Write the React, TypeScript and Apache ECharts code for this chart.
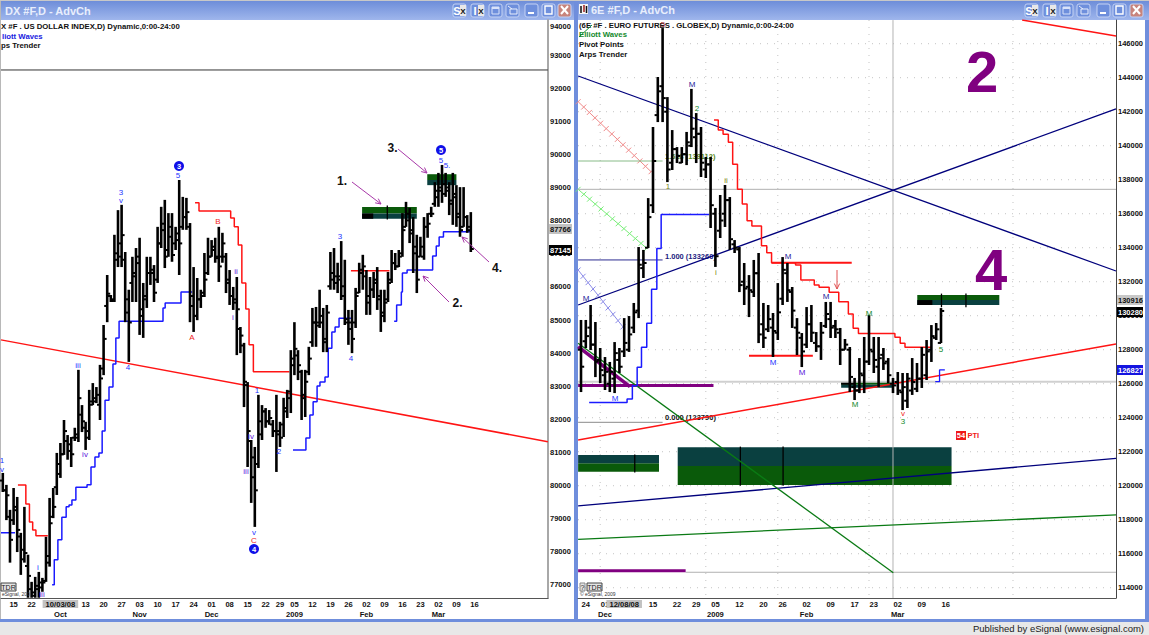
import React, { useEffect, useRef } from "react";
import * as echarts from "echarts";

const FONT = '"Liberation Sans", Arial, sans-serif';

// ---------- US dollar index: [open, high, low, close], one row per trading bar ----------
const dxBars = [
[80150,80380,79805,79855],[79855,80020,78955,79705],[79055,79265,77670,78360],[78955,79925,78810,79355],[79255,79655,77990,78660],
[78460,78570,77300,77770],[78060,79355,77670,77960],[77570,77910,76610,77270],[76870,77090,76610,76770],[76670,77240,76610,76970],
[76870,77390,76610,77070],[76920,77210,76790,77070],[77120,78450,77090,77870],[77670,79625,77550,78860],[79055,79925,79015,79355],
[79950,80985,79715,80650],[80350,81285,80230,80945],[80945,81980,80925,81645],[81345,81525,80780,81045],[81245,81465,80560,80945],
[81445,81745,81345,81545],[81445,83495,81315,82640],[82140,82430,81615,81940],[81745,81925,81075,81445],[81645,82890,81375,82540],
[82440,83095,82430,82640],[82540,82975,82490,82740],[82440,83645,81980,83235],[83535,84850,83335,84430],[85425,86360,84935,85795],
[85725,85755,85545,85575],[85625,87575,85545,87015],[86820,88320,86600,87315],[86915,88480,86600,87565],[86820,87055,84935,85225],
[85625,85915,83735,84925],[86120,86910,85545,86420],[86320,87175,85545,86720],[86915,87485,84550,85125],[85325,86120,84460,85625],
[85725,86910,85365,86420],[86420,86910,86060,86520],[86420,86660,85545,85825],[86220,87815,86120,87315],[87315,88420,87175,87910],
[87715,88630,86570,86915],[87115,88230,86910,87815],[87515,88230,86760,86965],[87315,87815,87115,87415],[87615,89230,86360,87315],
[87815,88720,87725,88110],[88110,88690,87725,88260],[87815,87930,84935,85425],[85725,86600,84640,85125],[85125,86270,84995,85625],
[85625,85915,85365,85725],[85825,87025,85695,86220],[86420,87485,86360,86915],[86915,87415,86910,87215],[87115,87485,86730,86870],
[86915,87815,86150,86620],[86915,87635,86730,87315],[86915,87025,85815,86120],[86220,86510,85455,85725],[85725,86000,85305,85525],
[85625,86300,83940,85325],[84730,84790,84000,84530],[84230,84310,82370,83135],[83035,83125,80560,81645],[81345,81375,79475,80250],
[80850,81165,78750,79855],[80650,82740,80530,81545],[81940,82430,81375,82240],[82240,82340,81745,81940],[81940,82280,81835,82040],
[81845,81980,81465,81645],[81645,82740,80410,81545],[81645,81925,81165,81445],[81845,82650,81465,82340],[82240,82890,82040,82640],
[82840,84090,82190,83835],[83635,84935,83335,84130],[83930,84090,83185,83635],[83435,83495,81980,82740],[82640,83495,82070,83135],
[83435,84190,83335,83835],[84330,85365,84190,84925],[84925,85395,84190,84830],[84925,85915,84760,85125],[84925,85365,84030,84330],
[84430,85455,84030,85225],[86020,87055,85915,86220],[86420,87175,85915,86320],[86120,86730,85815,86320],[86220,87385,85605,86020],
[85725,86820,84850,85025],[84925,85305,84250,84730],[84925,85305,84000,84430],[84925,85970,84760,85725],[85825,86730,85815,86520],
[86420,86970,85915,86620],[86320,86510,85155,85725],[85525,86300,85155,85920],[85920,86450,85665,86220],[86120,86600,85305,85725],
[85625,85915,84640,85225],[85125,85915,84935,85525],[85625,86450,85545,86120],[86220,87115,86120,86720],[86720,87025,86510,86620],
[86620,87115,86600,86915],[87015,88230,86910,87715],[87815,88570,87815,88210],[88010,88390,87325,87615],[87715,88110,86420,87015],
[87215,87575,85815,86220],[86915,87515,86910,87215],[86915,88110,86820,87815],[87815,88230,87485,87910],[88210,88420,88110,88210],
[88510,89165,88420,88905],[88710,89445,88420,89005],[88905,89685,88540,89105],[88810,89445,88720,88905],[89005,89165,88170,88510],
[88610,89445,87875,88810],[88710,89075,87815,88110],[88210,89015,87515,87715],[87815,89015,87815,88110],[88110,88170,87635,87815],
[87715,88260,87055,87145],
];

// ---------- Euro futures: [open, high, low, close] ----------
const euBars = [
[128000,129750,125510,127000],[128500,129750,128100,128800],[129300,130630,127980,128300],[128300,129630,126390,127300],[127400,128100,126040,126800],
[126500,127570,125630,126700],[126000,127280,125510,126700],[126300,128450,125450,127800],[127400,128100,126630,127000],[127900,129860,127570,128400],
[128000,129980,127870,128900],[129300,130750,128980,130200],[130300,134040,129860,133000],[132800,133870,132220,133100],[134000,136920,133980,135800],
[136500,141100,136040,139100],[141800,144040,141390,143200],[143500,146920,141390,142800],[142000,142860,137860,138600],[139000,140920,138570,139800],
[139800,139920,138980,139400],[139000,139920,138980,139500],[139500,140810,138860,140200],[140000,143340,139920,141000],[140500,141920,138980,140700],
[140700,141100,138160,139000],[138600,139340,138100,138900],[138900,139340,135160,136500],[136000,136340,132870,133500],[135000,137100,134570,135600],
[136000,137690,135220,136800],[136800,136980,133870,134500],[134200,134450,133690,134000],[133900,134040,131390,131800],[132000,133100,130630,131600],
[131700,132390,129920,131500],[131400,133280,131100,132500],[132500,133690,128390,128900],[129500,130750,128100,128700],[129200,130630,129040,129800],
[129300,130160,127570,129100],[129000,131920,128570,130200],[131000,133450,130630,132700],[132500,133100,130810,131500],[131400,131690,129280,130300],
[129300,129860,127690,129000],[128700,128980,126980,127900],[128300,130510,128100,129500],[129500,130630,128450,129000],[128400,129040,127870,128200],
[128200,129630,127400,129000],[129400,130810,129280,130100],[129800,130810,128690,129300],[129400,129750,128690,129200],[129000,129280,127100,128000],
[128000,128630,128000,128300],[128000,128160,125510,126400],[125800,126340,125040,125600],[125600,127510,125450,126600],[126500,128750,125450,127300],
[127300,130040,127100,128000],[127900,128750,126630,127400],[127000,128750,125810,127500],[127700,128100,126810,127200],[127300,127510,126040,126500],
[126000,126340,125450,125900],[126100,126690,125340,125600],[125500,126630,124450,125800],[125000,126630,124570,126300],[125600,127510,125340,126100],
[125700,127220,125510,126300],[126300,128160,125750,127700],[126500,128570,126220,127900],[128000,129450,127280,128800],[128700,129570,128570,129200],
[128400,130450,128390,130280],
];

// ---------- Axis ticks ----------
const dxPriceTicks = [93000,92000,91000,90000,89000,88000,87000,86000,85000,84000,83000,82000,81000,80000,79000,78000,77000];
const dxTopPriceLabel = "94000";
const euPriceTicks = [146000,144000,142000,140000,138000,136000,134000,132000,130000,128000,126000,124000,122000,120000,118000,116000,114000];
const dxDateSlots = [3,8,16,23,28,33,38,43,48,53,58,63,68,73,77,81,86,91,96,101,106,111,116,121,126,131];
const dxDateDays = ["15","22","10/03/08","13","20","27","03","10","17","24","01","08","15","22","29","05","12","19","26","02","09","16","23","02","09","16"];
const dxDateMonths = ["","","Oct","","","","Nov","","","","Dec","","","","","2009","","","","Feb","","","","Mar","",""];
const euDateSlots = [1,5,9,15,20,24,28,33,38,42,47,52,57,61,66,71,76];
const euDateDays = ["24","01","12/08/08","15","22","29","05","12","20","26","02","09","17","23","02","09","16"];
const euDateMonths = ["","Dec","","","","","2009","","","","Feb","","","","Mar","",""];
const euGridColumns = [4,26,41,60,90];

// ---------- Indicator lines: [bar, price] ----------
const dxTrend = [[-0.5,84400],[151.4,81325]];
const dxDivider = [[-0.5,92554],[151.4,92554]];
const dxBlue1 = [[-0.5,78570],[3.4,78570]];
const dxBlue2 = [[13.7,77000],[14.3,77760],[15.3,78360],[16.4,79045],[17.6,79355],[18.4,79415],[19.2,79565],[20.3,79950],[23.4,80020],[24.5,80560],[25.6,80860],[26.7,80985],[27.6,81645],[28.4,82580],[29.5,82980],[30.6,83675],[31.4,84460],[32.3,84965],[44.5,85365],[45.1,85515],[49.5,85845],[52.6,85845]];
const dxBlue3 = [[80.6,81075],[84.2,81435],[85.3,82130],[86.2,82530],[87.3,83005],[88.1,83125],[89.5,83275],[90.4,84150],[91.4,84640],[92.3,84790],[93.4,85055],[96.7,85055]];
const dxBlue4 = [[108.7,84965],[109.4,85455],[110.7,85845],[111,86420],[112.3,86510],[119.4,86935],[120.4,87235],[121.2,87505],[122.4,87665],[129.8,87665]];
const dxRed1 = [[4.2,80015],[6.4,79445],[7.4,78900],[8.3,78660],[9.2,78480],[12.5,78480]];
const dxRed2 = [[53.4,88540],[54.5,88290],[63.3,88080],[64.3,87815],[65.4,87265],[66.4,86120],[67.5,85335],[68.4,84250],[69.6,83435],[79.6,83435]];
const dxRed3 = [[96.7,86490],[107.4,86490]];

const euNavyFall = [[-0.6,144100],[111.46,132630]];
const euNavyRise = [[-0.6,130630],[111.46,142160]];
const euRedTop = [[91.9,147394],[111.46,146450]];
const euRedRise = [[-0.6,122690],[111.46,128340]];
const euNavyLow = [[-0.6,118810],[111.46,121610]];
const euGreenLow = [[-0.6,116850],[111.46,118280]];
const euGreenDrop = [[-0.6,128380],[65.06,114880]];
const euGrey1 = [[-0.6,137435],[111.46,137435]];
const euGrey2 = [[-0.6,126120],[111.46,126120]];
const euGrey3 = [[21.8,114910],[111.46,114910]];
const euCursor = [[65,113400],[65,147390]];
const euPurple1 = [[-0.6,125900],[27.6,125900]];
const euPurple2 = [[-0.6,115000],[21.8,115000]];
const euPurple3 = [[-0.6,128180],[10.2,125830]];
const euFib0 = [[-0.6,123730],[17,123730]];
const euFib1 = [[-0.6,133280],[17,133280]];
const euFib16 = [[-0.6,139100],[17,139100]];
const euRedStep = [[27.7,141510],[28.6,140920],[29.6,140670],[30.7,140200],[31.6,138910],[32.6,137435],[33.6,136570],[34.6,135590],[35.6,135280],[37.6,134120],[38.7,133710],[39.7,133120],[44.7,132980],[45.8,132100],[48.6,131810],[49.6,131670],[51.7,131380],[53.7,130820],[55.7,130100],[56.7,129260],[57.8,128960],[65.4,128730],[66.5,128380],[67.5,128140],[73.1,128140]];
const euBlueStep = [[1.7,124900],[9.6,125100],[10.7,125880],[11.7,126970],[12.6,128140],[13.7,129550],[14.7,131550],[15.8,133960],[16.7,135960],[26.7,135960]];
const euBlueEnd = [[73.8,126120],[74.7,126810],[75.8,126810]];
const euRedA = [[39.7,133120],[56.4,133120]];
const euRedB = [[35,127650],[48.3,127650]];
const euCrossRed = [[-0.6,142590,14.6,138470]];
const euCrossGreen = [[-0.6,137435,13.7,133965]];
const euCrossBlue = [[-0.6,132690,8.75,129340]];

// ---------- Zones: [from bar, to bar, top price, bottom price] ----------
const dxGreenZones = [[99.8,115,88415,88220],[117.9,126,89405,89230]];
const dxTealZones = [[99.8,115,88220,88060],[117.9,126,89230,89075]];
const dxBlackZones = [[99.8,102.9,88220,88060]];
const dxZoneTicks = [[106.8,88460,88040]];
const euGreenZones = [[-0.6,16.25,121320,120825],[20.15,77.2,121160,120040],[70.06,87.15,131220,130920],[54.2,65,126120,125940]];
const euTealZones = [[-0.6,16.25,121810,121320],[20.15,77.2,122260,121160],[70.06,87.15,130920,130630],[54.2,65,125940,125765]];
const euBlackZones = [[70.06,73.2,130920,130630],[54.2,57,126120,125940]];
const euZoneTicks = [[11.2,121840,120780],[33.2,122300,120000],[42.1,122300,120000],[75.1,131300,130500],[80.2,131300,130500]];

// ---------- Chart annotations ----------
const WB = "#2434ff", WP = "#5a18dc", WR = "#f02424", WM = "#24249c", WG = "#148a2c", WO = "#7c8a18";
const waveLabels: [string, number, number, string][] = [
  ["3",121,192,WB],["v",121,200,WB],["5",178,175,WB],["B",218,221,WR],["ii",236,271,WP],["i",233,317,WP],
  ["A",192,337,WR],["4",128,367,WB],["iii",78,365,WB],["iv",85,454,WP],["1",2,460,WB],["v",2,469,WB],
  ["i",38,567,WB],["iii",42,594,WP],["iv",251,436,WP],["iii",246,471,WP],["1",257,390,WB],["2",279,451,WB],
  ["v",254,532,WB],["C",254,540,WR],["4",351,358,WB],["3",340,236,WB],["5",441,160,WB],["5.",447,165,WB],
  ["M",692,84,WM],["2",697,108,WG],["1",668,186,WO],["ii",726,180,WO],["i",716,272,WO],["M",788,256,WM],
  ["M",826,296,WM],["M",586,298,WM],["M",615,398,WB],["M",773,362,WB],["M",802,372,WP],["M",855,404,WG],
  ["M",869,313,WG],["v",903,413,WR],["3",903,421,WG],["5",941,349,WG],["5",663,24,"#a02424"],
];
const waveCircles: [string, number, number][] = [["3",179,166],["4",254,549],["5",441,150]];
const bigNotes: [string, number, number][] = [["1.",342,181],["2.",457.5,303],["3.",392.5,148],["4.",497,268]];
const arrows: [number, number, number, number][] = [[352,182,381,204],[449,302,423,276],[398,149,427,173],[489,262,462,237]];

function ohlcRenderer(tick: number, width: number) {
  return (_: any, api: any) => {
    const bar = api.value(0);
    const [x, yo] = api.coord([bar, api.value(1)]);
    const yh = api.coord([bar, api.value(2)])[1];
    const yl = api.coord([bar, api.value(3)])[1];
    const yc = api.coord([bar, api.value(4)])[1];
    const style = { stroke: "#000", lineWidth: width, fill: "none" };
    return {
      type: "group",
      children: [
        { type: "line", shape: { x1: x, y1: yh, x2: x, y2: yl }, style },
        { type: "line", shape: { x1: x - tick, y1: yo, x2: x, y2: yo }, style: { ...style, lineWidth: 2 } },
        { type: "line", shape: { x1: x, y1: yc, x2: x + tick, y2: yc }, style: { ...style, lineWidth: 2 } },
      ],
    };
  };
}

function barSeries(rows: number[][], index: number, tick: number, width: number) {
  return {
    type: "custom",
    xAxisIndex: index,
    yAxisIndex: index,
    z: 5,
    silent: true,
    renderItem: ohlcRenderer(tick, width),
    data: rows.map((r, i) => [i, r[0], r[1], r[2], r[3]]),
  };
}

function lineSeries(data: number[][], index: number, color: string, width: number, step: boolean | string = false, z = 3) {
  return {
    type: "line",
    xAxisIndex: index,
    yAxisIndex: index,
    data,
    symbol: "none",
    step,
    z,
    silent: true,
    lineStyle: { color, width },
  };
}

function zoneSeries(rows: number[][], index: number, color: string, z = 1) {
  return {
    type: "custom",
    xAxisIndex: index,
    yAxisIndex: index,
    z,
    silent: true,
    data: rows,
    renderItem: (_: any, api: any) => {
      const a = api.coord([api.value(0), api.value(2)]);
      const b = api.coord([api.value(1), api.value(3)]);
      return { type: "rect", shape: { x: a[0], y: a[1], width: b[0] - a[0], height: b[1] - a[1] }, style: { fill: color } };
    },
  };
}

function zoneTickSeries(rows: number[][], index: number) {
  return {
    type: "custom",
    xAxisIndex: index,
    yAxisIndex: index,
    z: 2,
    silent: true,
    data: rows,
    renderItem: (_: any, api: any) => {
      const a = api.coord([api.value(0), api.value(1)]);
      const b = api.coord([api.value(0), api.value(2)]);
      return { type: "line", shape: { x1: a[0], y1: a[1], x2: b[0], y2: b[1] }, style: { stroke: "#000", lineWidth: 1.3 } };
    },
  };
}

function crossSeries(rows: number[][], color: string) {
  return {
    type: "custom",
    xAxisIndex: 1,
    yAxisIndex: 1,
    z: 2,
    silent: true,
    data: rows,
    renderItem: (_: any, api: any) => {
      const a = api.coord([api.value(0), api.value(1)]);
      const b = api.coord([api.value(2), api.value(3)]);
      const len = Math.hypot(b[0] - a[0], b[1] - a[1]);
      const count = Math.floor(len / 7.5);
      const style = { stroke: color, lineWidth: 1, fill: "none" };
      const children: any[] = [{ type: "line", shape: { x1: a[0], y1: a[1], x2: b[0], y2: b[1] }, style }];
      for (let i = 0; i <= count; i++) {
        const t = i / count;
        const cx = a[0] + (b[0] - a[0]) * t;
        const cy = a[1] + (b[1] - a[1]) * t;
        children.push({ type: "line", shape: { x1: cx - 2.5, y1: cy + 2.5, x2: cx + 2.5, y2: cy - 2.5 }, style });
      }
      return { type: "group", children };
    },
  };
}

function dottedRows(values: number[]) {
  return {
    type: "custom",
    xAxisIndex: 1,
    yAxisIndex: 1,
    z: 0,
    silent: true,
    data: values.map((v) => [v]),
    renderItem: (p: any, api: any) => {
      const y = api.coord([0, api.value(0)])[1];
      const c = p.coordSys;
      return { type: "line", shape: { x1: c.x, y1: y, x2: c.x + c.width, y2: y }, style: { stroke: "#c4c4c4", lineWidth: 1, lineDash: [1, 6] } };
    },
  };
}

function dottedColumns(values: number[]) {
  return {
    type: "custom",
    xAxisIndex: 1,
    yAxisIndex: 1,
    z: 0,
    silent: true,
    data: values.map((v) => [v]),
    renderItem: (p: any, api: any) => {
      const x = api.coord([api.value(0), 120000])[0];
      const c = p.coordSys;
      return { type: "line", shape: { x1: x, y1: c.y, x2: x, y2: c.y + c.height }, style: { stroke: "#c4c4c4", lineWidth: 1, lineDash: [1, 6] } };
    },
  };
}

const rich = {
  d: { fontFamily: FONT, fontSize: 7.6, fontWeight: "bold", color: "#111", lineHeight: 10 },
  h: { fontFamily: FONT, fontSize: 7.6, fontWeight: "bold", color: "#111", lineHeight: 10, backgroundColor: "#c2c2c2", padding: [0, 3, 0, 3] },
  m: { fontFamily: FONT, fontSize: 7.6, fontWeight: "bold", color: "#111", lineHeight: 10 },
};

function xAxis(index: number, min: number, max: number, slots: number[], days: string[], months: string[]) {
  return {
    type: "value",
    gridIndex: index,
    min,
    max,
    axisLine: { show: true, onZero: false, lineStyle: { color: "#555", width: 1 } },
    axisTick: { show: false },
    splitLine: { show: false },
    axisLabel: {
      customValues: slots,
      margin: 1,
      hideOverlap: false,
      rich,
      formatter: (v: number) => {
        const i = slots.indexOf(v);
        if (i < 0) return "";
        const key = days[i].length > 2 ? "h" : "d";
        return `{${key}|${days[i]}}` + (months[i] ? `\n{m|${months[i]}}` : "");
      },
    },
  };
}

function yAxis(index: number, min: number, max: number, ticks: number[], color: string, width: number) {
  return {
    type: "value",
    gridIndex: index,
    position: "right",
    min,
    max,
    axisLine: { show: true, onZero: false, lineStyle: { color, width } },
    axisTick: { show: false },
    splitLine: { show: false },
    axisLabel: {
      customValues: ticks,
      margin: 2,
      fontFamily: FONT,
      fontSize: 7.5,
      fontWeight: "bold",
      color: "#111",
      hideOverlap: false,
      formatter: (v: number) => String(v),
    },
  };
}

const txt = (text: string, x: number, y: number, fill: string, font: string, align = "left", z = 20) => ({
  type: "text",
  x,
  y,
  z,
  silent: true,
  style: { text, fill, font, align, verticalAlign: "middle" },
});
const box = (x: number, y: number, width: number, height: number, fill: any, z = 20, stroke?: string, r = 0) => ({
  type: "rect",
  z,
  silent: true,
  shape: { x, y, width, height, r },
  style: stroke ? { fill, stroke, lineWidth: 1 } : { fill },
});
const segment = (x1: number, y1: number, x2: number, y2: number, stroke: string, lineWidth = 1, z = 20) => ({
  type: "line",
  z,
  silent: true,
  shape: { x1, y1, x2, y2 },
  style: { stroke, lineWidth },
});

function arrow(x1: number, y1: number, x2: number, y2: number, color: string, head = 6) {
  const a = Math.atan2(y2 - y1, x2 - x1);
  const p1 = [x2 - head * Math.cos(a - 0.45), y2 - head * Math.sin(a - 0.45)];
  const p2 = [x2 - head * Math.cos(a + 0.45), y2 - head * Math.sin(a + 0.45)];
  return [
    segment(x1, y1, x2, y2, color),
    { type: "polyline", z: 20, silent: true, shape: { points: [p1, [x2, y2], p2] }, style: { stroke: color, fill: "none", lineWidth: 1 } },
  ];
}

function titleButtons(xs: number[]) {
  const out: any[] = [];
  const base = "#6e8fdc";
  xs.forEach((x, i) => {
    const isClose = i === 6;
    out.push(box(x, 4, 13, 13, isClose ? "#c8847c" : base, 21, "#c4d2f4", 2));
    if (i === 0 || i === 1) {
      out.push(box(x + 7, 5, 6, 11, "#e8e8e8", 22));
      out.push(txt(i === 0 ? "S" : "I", x + 4, 11, "#fff", `bold 11px ${FONT}`, "center", 23));
      out.push(txt("X", x + 10, 11, "#111", `bold 8px ${FONT}`, "center", 23));
    } else if (i === 2) {
      out.push({ type: "rect", z: 22, silent: true, shape: { x: x + 3, y: 7, width: 7, height: 7 }, style: { fill: "none", stroke: "#d8e2fa", lineWidth: 1 } });
      out.push(segment(x + 3, 8, x + 10, 8, "#d8e2fa", 2, 22));
    } else if (i === 3) {
      out.push({ type: "rect", z: 22, silent: true, shape: { x: x + 4, y: 9, width: 7, height: 5 }, style: { fill: "none", stroke: "#e8eefc", lineWidth: 1 } });
      out.push(segment(x + 2, 6, x + 6, 9, "#e8eefc", 1, 22));
    } else if (i === 4) {
      out.push(box(x + 3, 12, 6, 2, "#fff", 22));
    } else if (i === 5) {
      out.push({ type: "rect", z: 22, silent: true, shape: { x: x + 3, y: 6, width: 7, height: 8 }, style: { fill: "none", stroke: "#fff", lineWidth: 1.4 } });
    } else {
      out.push(segment(x + 3, 6, x + 10, 14, "#fff", 2, 22));
      out.push(segment(x + 10, 6, x + 3, 14, "#fff", 2, 22));
    }
  });
  return out;
}

function buildGraphics() {
  const gradient = { type: "linear", x: 0, y: 0, x2: 0, y2: 1, colorStops: [{ offset: 0, color: "#6b8bd8" }, { offset: 1, color: "#9fb6ec" }] };
  const frame = "#6f8edc";
  const label8 = `bold 7.5px ${FONT}`;
  const head8 = `bold 7.75px ${FONT}`;
  const wave = `8px ${FONT}`;
  const el: any[] = [
    box(0, 0, 1149, 635, "#e8e8e8", -5),
    box(1, 20, 573, 599, "#fff", -4),
    box(578, 20, 567, 599, "#fff", -4),
    box(0, 0, 1, 622, "#b8b8b8", -3),
    box(574, 0, 4, 622, frame, -3),
    box(1145, 0, 4, 622, frame, -3),
    box(0, 619, 1149, 3, frame, -3),
    box(1, 0, 573, 20, gradient, -3),
    box(578, 0, 571, 20, gradient, -3),
    box(0, 0, 1149, 1, "#c8c8c8", -2),
    txt("DX #F,D - AdvCh", 5, 11, "#e8eefc", `bold 11px ${FONT}`),
    txt("6E #F,D - AdvCh", 591, 10, "#e8eefc", `bold 11px ${FONT}`),
    box(579, 4, 9, 10, "#f4f4f4", 20),
    segment(581, 6, 581, 13, "#111", 1.5),
    segment(584, 5, 584, 12, "#a02020", 1.5),
    segment(586.5, 6, 586.5, 13, "#111", 1.5),
    ...titleButtons([453, 471, 489, 506, 525, 542, 558]),
    ...titleButtons([1025, 1043, 1060, 1077, 1097, 1113, 1130]),
    txt("X #F . US DOLLAR INDEX,D) Dynamic,0:00-24:00", 1, 26, "#111", head8),
    txt("liott Waves", 2, 36, "#1a1ae0", head8),
    txt("ps Trender", 1, 45, "#111", head8),
    txt("(6E #F . EURO FUTURES . GLOBEX,D) Dynamic,0:00-24:00", 579, 25, "#111", head8),
    txt("Elliott Waves", 579, 34, "#148a2c", head8),
    txt("Pivot Points", 579, 44, "#111", head8),
    txt("Arps Trender", 579, 54, "#111", head8),
    segment(579, 37, 592, 25, "#148a2c", 1),
    txt(dxTopPriceLabel, 550, 26, "#111", label8),
    box(549, 224, 23, 10, "#c2c2c2"),
    txt("87766", 550, 229.5, "#111", label8),
    box(549, 245, 23, 10, "#000"),
    txt("87145", 550, 250, "#fff", label8),
    box(1117, 295, 26, 10, "#c8c8c8"),
    txt("130916", 1118, 300, "#111", label8),
    box(1117, 307, 26, 10, "#000"),
    txt("130280", 1118, 312, "#fff", label8),
    box(1117, 365, 26, 10, "#1414e0"),
    txt("126827", 1118, 370, "#fff", label8),
    txt("2", 982, 71, "#800080", `bold 58px ${FONT}`, "center"),
    txt("4", 991, 269, "#800080", `bold 58px ${FONT}`, "center"),
    box(956, 431, 10, 9, "#f01818"),
    txt("54", 961, 435.5, "#fff", label8, "center"),
    txt("PTI", 967.5, 435.5, "#f01818", label8),
    txt("1.618 (139112)", 665, 156, "#5a8a1a", label8, "left", 1),
    txt("1.000 (133260)", 665, 256, "#1c1c80", label8, "left", 1),
    txt("0.000 (123790)", 665, 417, "#111", label8, "left", 1),
    ...arrow(837, 270, 837, 289, "#e05050", 6),
    box(1, 583, 15, 8, "#e4e4e4", 20, "#444"),
    txt("TDR", 8.5, 587, "#222", `7px ${FONT}`, "center"),
    txt("eSignal, 200", 2, 594, "#333", `5px ${FONT}`),
    box(580, 583, 5, 8, "#e4e4e4", 20, "#888"),
    txt("?", 582.5, 587, "#222", `7px ${FONT}`, "center"),
    box(587, 583, 15, 8, "#e4e4e4", 20, "#444"),
    txt("TDR", 594.5, 587, "#222", `7px ${FONT}`, "center"),
    txt("© eSignal, 2009", 580, 594, "#333", `5px ${FONT}`),
    txt("Published by eSignal (www.esignal.com)", 1144, 628, "#222", `9.5px ${FONT}`, "right"),
  ];
  waveLabels.forEach(([t, x, y, c]) => el.push(txt(t, x, y, c, wave, "center")));
  waveCircles.forEach(([t, x, y]) => {
    el.push({ type: "circle", z: 20, silent: true, shape: { cx: x, cy: y, r: 5 }, style: { fill: "#1010e8" } });
    el.push(txt(t, x, y + 0.5, "#fff", label8, "center", 21));
  });
  bigNotes.forEach(([t, x, y]) => el.push(txt(t, x, y, "#111", `bold 12px ${FONT}`, "center")));
  arrows.forEach(([a, b, c, d]) => el.push(...arrow(a, b, c, d, "#a838a8")));
  return el;
}

export default function App() {
  const ref = useRef<HTMLDivElement>(null);
  useEffect(() => {
    document.body.style.margin = "0";
    const chart = echarts.init(ref.current!, undefined, { renderer: "svg" });
    const RED = "#ff1414";
    const BLUE = "#1a1aff";
    const NAVY = "#00007c";
    const GREEN = "#0a7a14";
    const PURPLE = "#800080";
    const ZG = "#0a5a0a";
    const ZT = "#0a4040";
    chart.setOption({
      animation: false,
      backgroundColor: "transparent",
      textStyle: { fontFamily: FONT },
      grid: [
        { left: 1, top: 20, width: 547, height: 578, show: false },
        { left: 578, top: 20, width: 538, height: 578, show: false },
      ],
      xAxis: [
        xAxis(0, -0.5, 151.44, dxDateSlots, dxDateDays, dxDateMonths),
        xAxis(1, -0.625, 111.46, euDateSlots, euDateDays, euDateMonths),
      ],
      yAxis: [
        yAxis(0, 76602, 94064, dxPriceTicks, "#a8a8a8", 2),
        yAxis(1, 113396, 147394, euPriceTicks, "#444", 1),
      ],
      graphic: { elements: buildGraphics() },
      series: [
        lineSeries(dxDivider, 0, "#333", 1),
        lineSeries(dxTrend, 0, RED, 1.5),
        zoneSeries(dxGreenZones, 0, ZG),
        zoneSeries(dxTealZones, 0, ZT),
        zoneSeries(dxBlackZones, 0, "#000", 2),
        zoneTickSeries(dxZoneTicks, 0),
        lineSeries(dxBlue1, 0, BLUE, 1.5, "end"),
        lineSeries(dxBlue2, 0, BLUE, 1.5, "end"),
        lineSeries(dxBlue3, 0, BLUE, 1.5, "end"),
        lineSeries(dxBlue4, 0, BLUE, 1.5, "end"),
        lineSeries(dxRed1, 0, RED, 1.5, "end"),
        lineSeries(dxRed2, 0, RED, 1.5, "end"),
        lineSeries(dxRed3, 0, RED, 1.5),
        barSeries(dxBars, 0, 3, 2.6),

        dottedRows(euPriceTicks),
        dottedColumns(euGridColumns),
        zoneSeries(euGreenZones, 1, ZG),
        zoneSeries(euTealZones, 1, ZT),
        zoneSeries(euBlackZones, 1, "#000", 2),
        zoneTickSeries(euZoneTicks, 1),
        crossSeries(euCrossRed, "#f08a8a"),
        crossSeries(euCrossGreen, "#78ee78"),
        crossSeries(euCrossBlue, "#8a8ae8"),
        lineSeries(euGrey1, 1, "#b0b0b0", 1),
        lineSeries(euGrey2, 1, "#d0d0d0", 2),
        lineSeries(euGrey3, 1, "#b0b0b0", 1),
        lineSeries(euCursor, 1, "#b4b4b4", 1),
        lineSeries(euFib0, 1, "#8a8a8a", 1),
        lineSeries(euFib1, 1, "#2c2c90", 1),
        lineSeries(euFib16, 1, "#88bb88", 1),
        lineSeries(euPurple1, 1, PURPLE, 3),
        lineSeries(euPurple2, 1, PURPLE, 3),
        lineSeries(euPurple3, 1, PURPLE, 3.5),
        lineSeries(euNavyFall, 1, NAVY, 1.3),
        lineSeries(euNavyRise, 1, NAVY, 1.3),
        lineSeries(euNavyLow, 1, NAVY, 1.3),
        lineSeries(euRedTop, 1, RED, 1.5),
        lineSeries(euRedRise, 1, RED, 1.5),
        lineSeries(euGreenLow, 1, GREEN, 1.3),
        lineSeries(euGreenDrop, 1, GREEN, 1.3),
        lineSeries(euRedStep, 1, RED, 1.5, "end"),
        lineSeries(euBlueStep, 1, BLUE, 1.5, "end"),
        lineSeries(euBlueEnd, 1, BLUE, 1.3, "end"),
        lineSeries(euRedA, 1, RED, 2),
        lineSeries(euRedB, 1, RED, 2),
        barSeries(euBars, 1, 3.2, 2.6),
      ],
    });
    return () => chart.dispose();
  }, []);
  return <div ref={ref} style={{ position: "absolute", left: 0, top: 0, width: 1149, height: 635 }} />;
}
